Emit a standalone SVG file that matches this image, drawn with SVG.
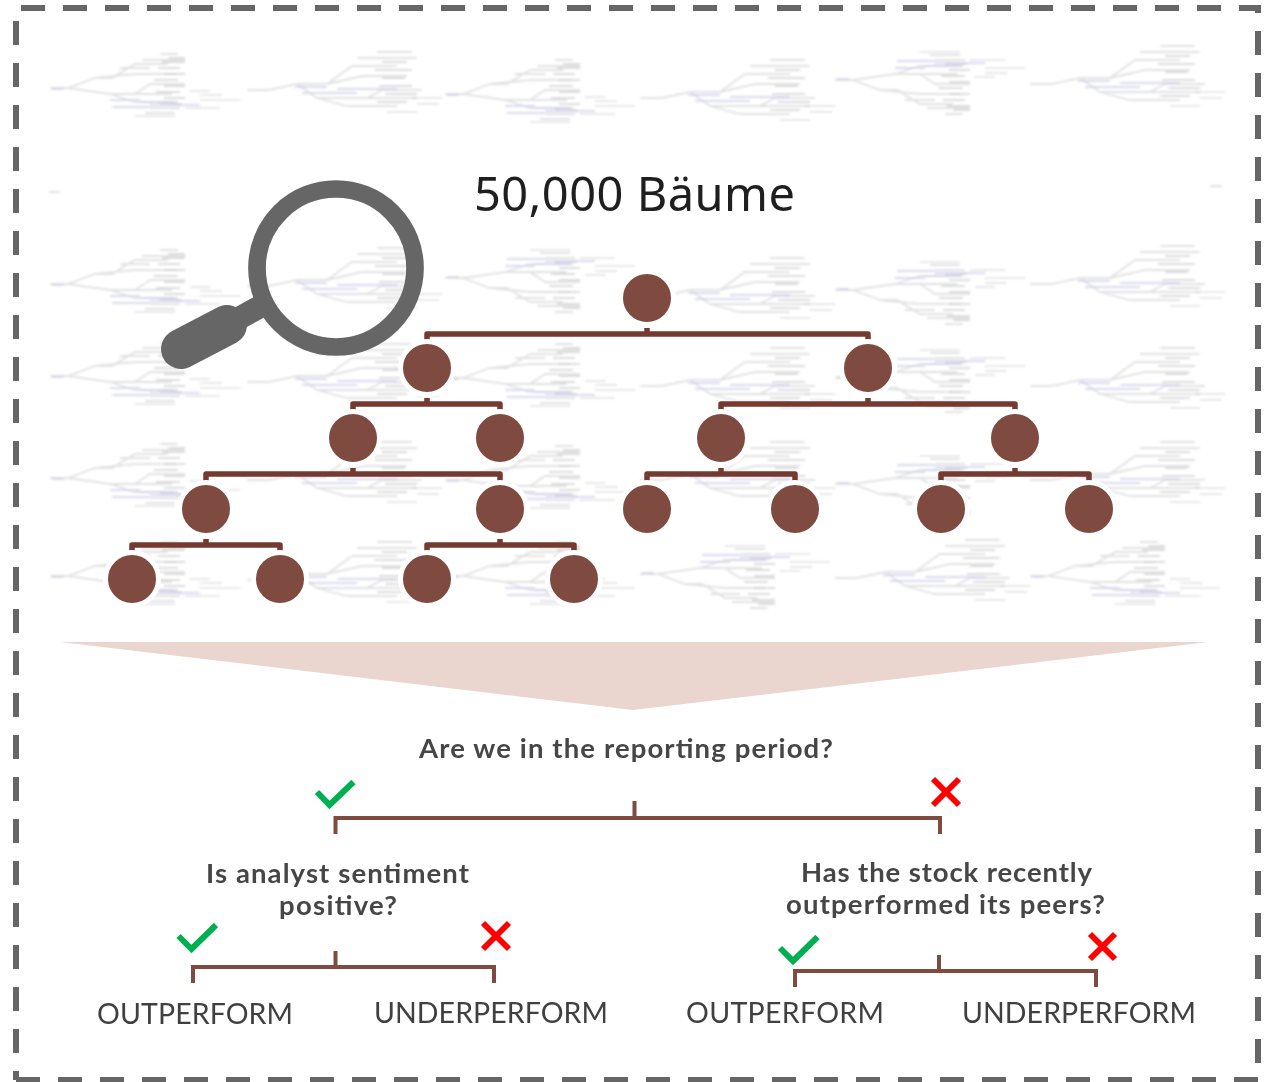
<svg xmlns="http://www.w3.org/2000/svg" width="1266" height="1082" viewBox="0 0 1266 1082">
<style>
.frame{fill:none;stroke:#666;stroke-width:6;stroke-dasharray:24 18}
.n{fill:#7f4a3f;stroke:#fff;stroke-width:5}
.t{fill:none;stroke:#74392f;stroke-width:5.500;stroke-linejoin:round}
.b{fill:none;stroke:#7f4a3f;stroke-width:4}
.ok{fill:none;stroke:#00b050;stroke-width:6}
.no{fill:none;stroke:#f00;stroke-width:6}
.q{font-family:"Lato","Liberation Sans",sans-serif;font-size:27.500px;font-weight:700;fill:#464646;text-anchor:middle}
.r{font-family:"Lato","Liberation Sans",sans-serif;font-size:28.500px;fill:#404040}
.g{fill:none;stroke:#989898;stroke-width:1.800}
.l{fill:none;stroke:#a4a4dc;stroke-width:1.800}
</style>
<defs>
<filter id="bl" x="-5%" y="-20%" width="110%" height="140%"><feGaussianBlur stdDeviation="1.100"/></filter>
<g id="tree">
<path class="g" opacity=".5" d="M0 0H18L45-10H62L85-24H118M45-10L85-14H126M18 0L60 6H85L100-4H135M85 6H122M60 6L85 14H128M70-20H100M92-28H135M110-34H128M100 20H130M95 25H125"/>
<path class="g" opacity=".6" d="M112-26H135M108-20H130M114-14H135M104-8H128M114-2H135M106 4H130M114 10H135M110 16H132M118-30H135"/>
<path class="l" opacity=".7" d="M2 1H14M60 12H90M62 19H100M90 14H125M100 17H150"/>
<path class="g" opacity=".4" d="M85 28H125M150 12H190M150 7H172M135 20H170M140 3H160"/>
</g>
<g id="tree2">
<path class="g" opacity=".5" d="M0 6H22L50 0H80L105-18H150M80 0L115-8H160M50 0L70 14H120L135 6H175M120 14H170M70 14L100 22H150M110-26H170M130-32H165"/>
<path class="g" opacity=".6" d="M135-22H160M128-14H165M135-6H158M132 2H165M138 10H170M130 18H160"/>
<path class="l" opacity=".7" d="M48 3H80M55 9H110M90 5H150"/>
<path class="g" opacity=".4" d="M140 28H170M165 14H195M170 20H192"/>
</g>
</defs>
<rect width="1266" height="1082" fill="#fff"/>
<g id="background" filter="url(#bl)" opacity=".55">
<use href="#tree" transform="translate(50 88)"/><use href="#tree2" transform="translate(247 84)"/><use href="#tree" transform="translate(445 94)"/><use href="#tree2" transform="translate(640 92)"/><use href="#tree" transform="translate(835 80) scale(1 -1)"/><use href="#tree2" transform="translate(1030 78)"/>
<use href="#tree" transform="translate(50 284)"/><use href="#tree2" transform="translate(247 280)"/><use href="#tree" transform="translate(445 278) scale(1 -1)"/><use href="#tree2" transform="translate(640 290)"/><use href="#tree" transform="translate(835 290) scale(1 -1)"/><use href="#tree2" transform="translate(1030 278)"/>
<use href="#tree" transform="translate(50 376)"/><use href="#tree2" transform="translate(247 376)"/><use href="#tree" transform="translate(445 378)"/><use href="#tree2" transform="translate(640 380)"/><use href="#tree" transform="translate(835 378) scale(1 -1)"/><use href="#tree2" transform="translate(1030 380)"/>
<use href="#tree" transform="translate(50 478)"/><use href="#tree2" transform="translate(247 474)"/><use href="#tree" transform="translate(445 480)"/><use href="#tree2" transform="translate(640 474)"/><use href="#tree" transform="translate(835 484) scale(1 -1)"/><use href="#tree2" transform="translate(1030 474)"/>
<use href="#tree" transform="translate(50 576)"/><use href="#tree2" transform="translate(247 574)"/><use href="#tree" transform="translate(445 576)"/><use href="#tree" transform="translate(640 574) scale(1 -1)"/><use href="#tree2" transform="translate(835 572)"/><use href="#tree" transform="translate(1030 576)"/>
<path class="g" opacity=".5" d="M49 192H60M1210 186H1222"/>
</g>
<g id="frame"><path class="frame" d="M21 8H1258V1080"/><path class="frame" d="M16 1080H1258"/><path class="frame" d="M16 21V1080"/></g>
<g id="magnifier"><circle cx="336" cy="268" r="79" fill="none" stroke="#666" stroke-width="17.700"/><path d="M225 326L272 300" stroke="#666" stroke-width="23" fill="none"/><path d="M181 349L227 325" stroke="#666" stroke-width="40" stroke-linecap="round" fill="none"/></g>
<g id="title"><text x="474" y="211" font-family="'Noto Sans','Open Sans',sans-serif" font-size="47" fill="#1f1f1f" textLength="321">50,000 Bäume</text></g>
<g id="connectors">
<path class="t" d="M647 328V334M427 342V334H868V342"/>
<path class="t" d="M427 398V404M353 412V404H500V412"/>
<path class="t" d="M868 398V404M721 412V404H1015V412"/>
<path class="t" d="M353 468V474M206 482V474H500V482"/>
<path class="t" d="M721 468V474M647 482V474H795V482"/>
<path class="t" d="M1015 468V474M941 482V474H1089V482"/>
<path class="t" d="M206 539V545M132 553V545H280V553"/>
<path class="t" d="M500 539V545M427 553V545H574V553"/>
<path class="b" d="M634.500 801V818M335.500 834V818H940V834"/>
<path class="b" d="M335.500 951V967M193 983V967H494V983"/>
<path class="b" d="M939 955V971M795 987V971H1096V987"/>
</g>
<g id="nodes">
<circle id="n1" class="n" cx="647" cy="298" r="26.500"/>
<circle id="n2" class="n" cx="427" cy="368" r="26.500"/><circle id="n3" class="n" cx="868" cy="368" r="26.500"/>
<circle id="n4" class="n" cx="353" cy="438" r="26.500"/><circle id="n5" class="n" cx="500" cy="438" r="26.500"/><circle id="n6" class="n" cx="721" cy="438" r="26.500"/><circle id="n7" class="n" cx="1015" cy="438" r="26.500"/>
<circle id="n8" class="n" cx="206" cy="509" r="26.500"/><circle id="n9" class="n" cx="500" cy="509" r="26.500"/><circle id="n10" class="n" cx="647" cy="509" r="26.500"/><circle id="n11" class="n" cx="795" cy="509" r="26.500"/><circle id="n12" class="n" cx="941" cy="509" r="26.500"/><circle id="n13" class="n" cx="1089" cy="509" r="26.500"/>
<circle id="n14" class="n" cx="132" cy="579" r="26.500"/><circle id="n15" class="n" cx="280" cy="579" r="26.500"/><circle id="n16" class="n" cx="427" cy="579" r="26.500"/><circle id="n17" class="n" cx="574" cy="579" r="26.500"/>
</g>
<polygon id="funnel" points="60,642 1208,642 633,710" fill="#ead5cf"/>
<g id="q1"><text class="q" x="626" y="758" textLength="414">Are we in the reporting period?</text><path class="ok" d="M317 792L329.500 805L353.500 782"/><path class="no" d="M933 779L959 805M959 779L933 805"/></g>
<g id="q2"><text class="q" x="337.500" y="883" textLength="263">Is analyst sentiment</text><text class="q" x="338" y="915" textLength="118">positive?</text><path class="ok" d="M178.500 936L191.500 949L216 925"/><path class="no" d="M483 923L509 949M509 923L483 949"/></g>
<g id="q3"><text class="q" x="946.500" y="882" textLength="291">Has the stock recently</text><text class="q" x="945.500" y="914" textLength="319">outperformed its peers?</text><path class="ok" d="M780 948L793 961L817.500 937"/><path class="no" d="M1090 934L1115 959M1115 934L1090 959"/></g>
<g id="leaves"><text class="r" x="97" y="1024" textLength="196">OUTPERFORM</text><text class="r" x="374" y="1023" textLength="234">UNDERPERFORM</text><text class="r" x="686" y="1023" textLength="198">OUTPERFORM</text><text class="r" x="962" y="1023" textLength="234">UNDERPERFORM</text></g>
</svg>
